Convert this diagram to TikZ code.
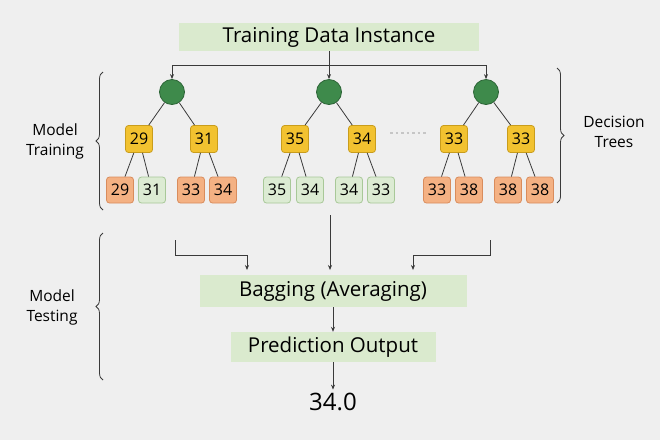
\documentclass[tikz,border=0pt]{standalone}
\usepackage{fontspec}
\setmainfont{Open Sans}
\usetikzlibrary{arrows.meta,decorations.pathreplacing}
\definecolor{bgc}{HTML}{EFEFEF}
\definecolor{linec}{HTML}{3A3A3A}
\definecolor{bannc}{HTML}{DAEACE}
\definecolor{rootc}{HTML}{3E8A4B}
\definecolor{rootd}{HTML}{2C6436}
\definecolor{yellc}{HTML}{F2C230}
\definecolor{yelld}{HTML}{C99D1C}
\definecolor{orngc}{HTML}{F4B183}
\definecolor{orngd}{HTML}{D98C5C}
\definecolor{grenc}{HTML}{DCEBD3}
\definecolor{grend}{HTML}{A8C898}
\begin{document}
\begin{tikzpicture}[x=1pt,y=-1pt,
every edge/.style = {draw=linec, line width=0.8pt},
 arr/.style = {draw=linec, line width=0.7pt, -{Stealth[length=5pt,width=4pt]}},
 root/.style = {circle, draw=rootd, thick, fill=rootc,
      minimum size=25pt, inner sep=0pt},
 split/.style = {rectangle, rounded corners=3pt, draw=yelld, thick, fill=yellc,
      minimum size=27pt, inner sep=0pt, font=\fontsize{16}{16}\selectfont},
 leaf/.style = {rectangle, rounded corners=3pt, draw=#1d, thick, fill=#1c,
      minimum width=27pt, minimum height=26pt, inner sep=0pt,
      font=\fontsize{16}{16}\selectfont},
 banner/.style args = {#1/#2}{%
      rectangle, fill=bannc, minimum width=#1, minimum height=#2,
      inner sep=0pt, font=\fontsize{20.5}{20.5}\selectfont},
 side/.style = {align=center, font=\fontsize{15.5}{20}\selectfont},
 brc/.style = {draw=linec, thick, decorate,
      decoration={brace, amplitude=7pt}}
                    ]
\fill[bgc] (0,0) rectangle (660,440);
\useasboundingbox (0,0) rectangle (660,440);
%
\node(title) [banner=300pt/28pt] at (329,37) {Training Data Instance};
\coordinate (fork) at (329,65);
%
\node(r1) [root] at (172,92) {};
\node(r2) [root] at (329,92) {};
\node(r3) [root] at (486,92) {};
%
\node(s11) [split] at (139,139) {29};
\node(s12) [split] at (204,139) {31};
\node(s21) [split] at (295,139) {35};
\node(s22) [split] at (362,139) {34};
\node(s31) [split] at (454,139) {33};
\node(s32) [split] at (521,139) {33};
%
\node(l111) [leaf=orng] at (120,190) {29};
\node(l112) [leaf=gren] at (152,190) {31};
\node(l121) [leaf=orng] at (191,190) {33};
\node(l122) [leaf=orng] at (223,190) {34};
\node(l211) [leaf=gren] at (277,190) {35};
\node(l212) [leaf=gren] at (310,190) {34};
\node(l221) [leaf=gren] at (349,190) {34};
\node(l222) [leaf=gren] at (381,190) {33};
\node(l311) [leaf=orng] at (437,190) {33};
\node(l312) [leaf=orng] at (469,190) {38};
\node(l321) [leaf=orng] at (508,190) {38};
\node(l322) [leaf=orng] at (540,190) {38};
%
\draw[gray!45, line width=2.5pt, dash pattern=on 2.5pt off 3pt] (390,133) -- (428,133);
%
\path   (r1)  edge (s11);
\path   (r1)  edge (s12);
\path   (r2)  edge (s21);
\path   (r2)  edge (s22);
\path   (r3)  edge (s31);
\path   (r3)  edge (s32);
\path   (s11) edge (l111);
\path   (s11) edge (l112);
\path   (s12) edge (l121);
\path   (s12) edge (l122);
\path   (s21) edge (l211);
\path   (s21) edge (l212);
\path   (s22) edge (l221);
\path   (s22) edge (l222);
\path   (s31) edge (l311);
\path   (s31) edge (l312);
\path   (s32) edge (l321);
\path   (s32) edge (l322);
%
\draw[arr] (title) -- (r2);
\draw[arr] (fork) -| (r1);
\draw[arr] (fork) -| (r3);
%
\node(bag)  [banner=267pt/32pt] at (333,291) {Bagging (Averaging)};
\node(pred) [banner=205pt/30pt] at (333,347) {Prediction Output};
\node(out)  [font=\fontsize{24}{24}\selectfont] at (333,402) {34.0};
%
\coordinate (inL) at (175,240);
\coordinate (kL)  at (175,255);
\coordinate (bagL) at (247,270);
\coordinate (inM) at (330,215);
\coordinate (bagM) at (330,270);
\coordinate (inR) at (490,240);
\coordinate (kR)  at (490,255);
\coordinate (bagR) at (413,270);
\draw[arr] (inL) -- (kL) -| (bagL);
\draw[arr] (inM) -- (bagM);
\draw[arr] (inR) -- (kR) -| (bagR);
\draw[arr] (bag) -- (pred);
\draw[arr] (pred) -- (out);
%
\draw[brc] (103,210) -- (103,72);
\draw[brc] (557,68) -- (557,203);
\draw[brc] (103,380) -- (103,233);
\node(train) [side] at (55,141) {Model\\Training};
\node(trees) [side] at (614,132) {Decision\\Trees};
\node(test)  [side] at (52,307) {Model\\Testing};
\end{tikzpicture}
\end{document}
